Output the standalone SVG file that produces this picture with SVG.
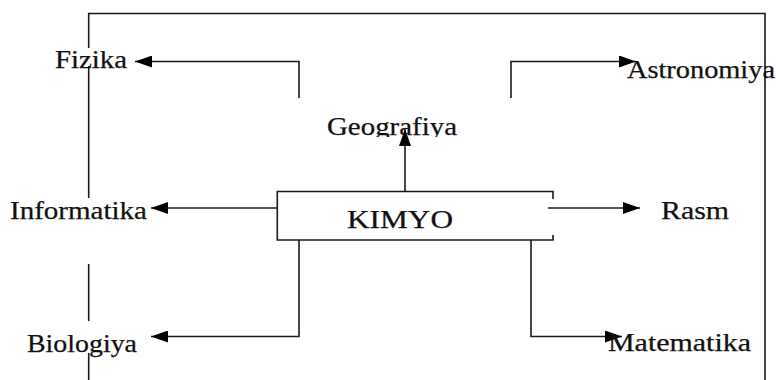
<svg xmlns="http://www.w3.org/2000/svg" width="776" height="380" viewBox="0 0 776 380">
<defs>
<marker id="ah" markerWidth="17" markerHeight="12" refX="17" refY="6" orient="auto" markerUnits="userSpaceOnUse">
<path d="M0,0 L17,6 L0,12 Z" fill="#000"/>
</marker>
<clipPath id="geoclip"><rect x="300" y="100" width="200" height="37"/></clipPath>
<style>
.ln{fill:none;stroke:#1a1a1a;stroke-width:1.6}
.ar{fill:none;stroke:#1a1a1a;stroke-width:1.6;marker-end:url(#ah)}
.t{font-family:"Liberation Serif","Times New Roman",serif;font-size:24.5px;fill:#111;stroke:#111;stroke-width:0.25}
</style>
</defs>
<rect width="776" height="380" fill="#fff"/>
<g id="frame" class="ln">
<polyline points="88.7,48 88.7,13.5 765,13.5 765,380"/>
<line x1="88.7" y1="66" x2="88.7" y2="198"/>
<line x1="88.7" y1="264" x2="88.7" y2="321"/>
<line x1="88.7" y1="353" x2="88.7" y2="380"/>
</g>
<g id="connectors">
<polyline class="ar" points="299,98 299,61.5 135,61.5"/>
<polyline class="ar" points="511,98 511,61.5 636,61.5"/>
<line class="ar" x1="405" y1="191" x2="405" y2="129"/>
<line class="ar" x1="277" y1="208" x2="151" y2="208"/>
<line class="ar" x1="548" y1="208" x2="640" y2="208"/>
<polyline class="ar" points="299,240 299,336.5 151,336.5"/>
<polyline class="ar" points="531,240 531,336.5 622,336.5"/>
</g>
<g id="kimyo">
<path class="ln" d="M553,199 L553,191.5 L277.3,191.5 L277.3,240 L553,240 L553,235"/>
<text class="t" x="347" y="228" textLength="106" lengthAdjust="spacingAndGlyphs">KIMYO</text>
</g>
<g id="fizika"><text class="t" x="55" y="68" textLength="72" lengthAdjust="spacingAndGlyphs">Fizika</text></g>
<g id="geografiya"><text class="t" x="327" y="135" textLength="130" lengthAdjust="spacingAndGlyphs" clip-path="url(#geoclip)">Geografiya</text></g>
<g id="astronomiya"><text class="t" x="627" y="78" textLength="148" lengthAdjust="spacingAndGlyphs">Astronomiya</text></g>
<g id="informatika"><text class="t" x="10" y="219" textLength="137" lengthAdjust="spacingAndGlyphs">Informatika</text></g>
<g id="rasm"><text class="t" x="661" y="219" textLength="68" lengthAdjust="spacingAndGlyphs">Rasm</text></g>
<g id="biologiya"><text class="t" x="27" y="352" textLength="110" lengthAdjust="spacingAndGlyphs">Biologiya</text></g>
<g id="matematika"><text class="t" x="608" y="351" textLength="143" lengthAdjust="spacingAndGlyphs">Matematika</text></g>
</svg>
